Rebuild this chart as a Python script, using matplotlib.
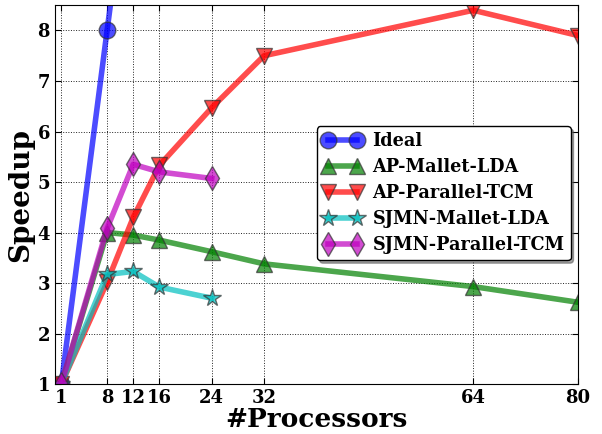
import matplotlib
matplotlib.use("Agg")
import matplotlib.pyplot as plt

# ===============================
# DATA
# ===============================

procs = [1, 8, 12, 16, 24, 32, 64, 80]
procs_sjmn = [1, 8, 12, 16, 24]

ideal_x = [1, 8, 16]
ideal_y = [1, 8, 16]

ap_mallet_lda = [1.0, 4.0, 3.95, 3.85, 3.62, 3.38, 2.93, 2.62]
ap_parallel_tcm = [1.0, 3.02, 4.3, 5.33, 6.47, 7.5, 8.4, 7.9]
sjmn_mallet_lda = [1.0, 3.17, 3.23, 2.92, 2.7]
sjmn_parallel_tcm = [1.0, 4.08, 5.35, 5.2, 5.07]

xticks = [1, 8, 12, 16, 24, 32, 64, 80]
yticks = [1, 2, 3, 4, 5, 6, 7, 8]

# ===============================
# PLOT
# ===============================

plt.rcParams["font.family"] = "DejaVu Serif"
plt.rcParams["font.weight"] = "bold"
plt.rcParams["xtick.direction"] = "in"
plt.rcParams["ytick.direction"] = "in"

fig = plt.figure(figsize=(6.02, 4.34), dpi=100)
ax = fig.add_axes([0.091, 0.115, 0.869, 0.873])

common = dict(lw=4, alpha=0.7, ms=12, mec="#333333", mew=1)
ax.plot(ideal_x, ideal_y, "o-", color="b", label="Ideal", **common)
ax.plot(procs, ap_mallet_lda, "^-", color="g", label="AP-Mallet-LDA", **common)
ax.plot(procs, ap_parallel_tcm, "v-", color="r", label="AP-Parallel-TCM", **common)
ax.plot(procs_sjmn, sjmn_mallet_lda, "*-", color="c", label="SJMN-Mallet-LDA",
        **dict(common, ms=13))
ax.plot(procs_sjmn, sjmn_parallel_tcm, "d-", color="m", label="SJMN-Parallel-TCM",
        **common)

ax.set_xlim(0, 80)
ax.set_ylim(1, 8.5)
ax.set_xticks(xticks)
ax.set_yticks(yticks)
ax.tick_params(labelsize=13, top=True, right=True, length=4)
for lab in ax.get_xticklabels() + ax.get_yticklabels():
    lab.set_fontweight("bold")
ax.grid(True, ls=":", color="#222222", lw=0.7)

ax.set_xlabel("#Processors", fontsize=19, fontweight="bold", labelpad=0)
ax.set_ylabel("Speedup", fontsize=20, fontweight="bold", labelpad=2)

leg = ax.legend(loc="upper right", bbox_to_anchor=(0.948, 0.709),
                bbox_transform=fig.transFigure, numpoints=2,
                prop={"weight": "bold", "size": 12.7}, fancybox=True,
                shadow=True, handlelength=2.2, borderpad=0.35, labelspacing=0.45,
                handletextpad=0.6, framealpha=1, borderaxespad=0)
leg.get_frame().set_edgecolor("black")

fig.savefig("out.png", dpi=100)
